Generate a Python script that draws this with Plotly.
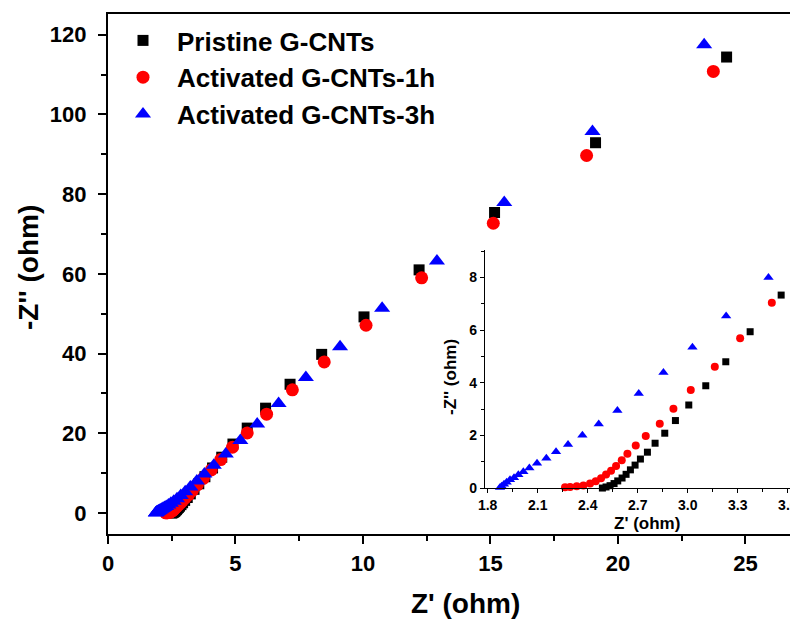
import numpy as np
import plotly.graph_objects as go

# ---------------- data ----------------
pristine_x = [2.488, 2.51, 2.534, 2.558, 2.58, 2.606, 2.63, 2.656, 2.684, 2.716, 2.758, 2.804,
              2.862, 2.926, 3.006, 3.108, 3.228, 3.374, 3.56, 3.80, 4.10, 4.46, 4.90, 5.46,
              6.18, 7.14, 8.38, 10.04, 12.2, 15.16, 19.12, 24.26]
pristine_y = [0.01, 0.05, 0.10, 0.18, 0.28, 0.39, 0.53, 0.70, 0.88, 1.11, 1.37, 1.71,
              2.09, 2.57, 3.16, 3.89, 4.80, 5.94, 7.33, 9.1, 11.3, 14.0, 17.3, 21.3,
              26.3, 32.3, 39.8, 49.2, 61.0, 75.4, 92.9, 114.4]

act1h_x = [2.264, 2.294, 2.334, 2.374, 2.414, 2.448, 2.48, 2.51, 2.54, 2.57, 2.604, 2.638,
           2.688, 2.748, 2.832, 2.914, 3.018, 3.162, 3.314, 3.504, 3.74, 4.05, 4.42, 4.88,
           5.46, 6.22, 7.23, 8.48, 10.12, 12.3, 15.11, 18.77, 23.74]
act1h_y = [0.04, 0.05, 0.08, 0.11, 0.18, 0.27, 0.38, 0.52, 0.67, 0.85, 1.06, 1.31,
           1.62, 1.98, 2.45, 3.02, 3.73, 4.61, 5.69, 7.04, 8.7, 10.8, 13.4, 16.5,
           20.1, 24.8, 30.9, 37.9, 47.1, 59.0, 72.7, 89.7, 110.8]

act3h_x = [1.874, 1.884, 1.898, 1.914, 1.934, 1.958, 1.984, 2.014, 2.05, 2.096, 2.152, 2.21,
           2.282, 2.368, 2.466, 2.578, 2.706, 2.854, 3.028, 3.23, 3.484, 3.78, 4.15, 4.62,
           5.19, 5.85, 6.69, 7.76, 9.10, 10.75, 12.9, 15.54, 19.0, 23.38]
act3h_y = [0.03, 0.08, 0.15, 0.23, 0.32, 0.40, 0.51, 0.63, 0.77, 0.95, 1.14, 1.39,
           1.66, 2.01, 2.44, 2.95, 3.60, 4.39, 5.35, 6.54, 8.00, 9.8, 12.0, 14.8,
           18.2, 22.3, 27.5, 34.0, 41.7, 51.4, 63.2, 77.9, 95.7, 117.5]

series_names = ["Pristine G-CNTs", "Activated G-CNTs-1h", "Activated G-CNTs-3h"]

main_xticks = [0, 5, 10, 15, 20, 25]
main_yticks = [0, 20, 40, 60, 80, 100, 120]
inset_xticks = [1.8, 2.1, 2.4, 2.7, 3.0, 3.3, 3.6]
inset_yticks = [0, 2, 4, 6, 8]

# ---------------- styling ----------------
FONT = "Liberation Sans"
series = [
    (pristine_x, pristine_y, series_names[0], "square", "#000000", 11, 7),
    (act1h_x, act1h_y, series_names[1], "circle", "#ff0000", 13, 8),
    (act3h_x, act3h_y, series_names[2], "triangle-up", "#0000ff", 14, 9),
]

INSET_XMAX = 3.64
INSET_YMAX = 9.0

fig = go.Figure()
for xs, ys, name, sym, col, s_main, s_in in series:
    fig.add_trace(go.Scatter(
        x=xs, y=ys, mode="markers", name=name,
        marker=dict(symbol=sym, color=col, size=s_main, line=dict(width=0)),
        xaxis="x", yaxis="y", cliponaxis=False,
    ))
for xs, ys, name, sym, col, s_main, s_in in series:
    xa = np.array(xs)
    ya = np.array(ys)
    m = (xa <= INSET_XMAX) & (ya <= INSET_YMAX)
    fig.add_trace(go.Scatter(
        x=xa[m], y=ya[m], mode="markers", name=name, showlegend=False,
        marker=dict(symbol=sym, color=col, size=s_in, line=dict(width=0)),
        xaxis="x2", yaxis="y2", cliponaxis=False,
    ))

axis_common = dict(showgrid=False, zeroline=False, showline=True, linecolor="black",
                   ticks="outside", tickcolor="black")

# plot area (page pixels): x 108..798, y 14..534 ; page body has an 8px margin
PL, PT, PW, PH = 108, 14, 690, 520


def px_x(p):
    return (p - PL) / PW


def px_y(p):
    return (PT + PH - p) / PH


fig.update_layout(
    width=790, height=611,
    margin=dict(l=100, r=0, t=6, b=85),
    paper_bgcolor="white", plot_bgcolor="white",
    font=dict(family=FONT, color="black"),
    xaxis=dict(**axis_common, range=[0, 27.06], tickvals=main_xticks, linewidth=2.2,
               ticklen=8, tickwidth=2, mirror=True,
               tickfont=dict(size=22, family=FONT, weight="bold"),
               minor=dict(dtick=2.5, ticklen=5, tickwidth=1.6, ticks="outside", tickcolor="black")),
    yaxis=dict(**axis_common, range=[-5.27, 125.2], tickvals=main_yticks, linewidth=2.2,
               ticklen=8, tickwidth=2, ticklabelstandoff=7,
               tickfont=dict(size=22, family=FONT, weight="bold"),
               minor=dict(dtick=10, ticklen=5, tickwidth=1.6, ticks="outside", tickcolor="black")),
    xaxis2=dict(**axis_common, domain=[px_x(485), 1.0], anchor="y2", range=[1.784, 3.661],
                tickvals=inset_xticks, tickformat=".1f", linewidth=1.3, ticklen=4, tickwidth=1.2,
                tickfont=dict(size=14, family=FONT, weight="bold"),
                minor=dict(dtick=0.15, tick0=1.8, ticklen=2.5, tickwidth=1, ticks="outside", tickcolor="black")),
    yaxis2=dict(**axis_common, domain=[px_y(488.3), px_y(250)], anchor="x2", range=[0, 9.04],
                tickvals=inset_yticks, linewidth=1.3, ticklen=4, tickwidth=1.2,
                tickfont=dict(size=14, family=FONT, weight="bold"),
                minor=dict(dtick=1, ticklen=2.5, tickwidth=1, ticks="outside", tickcolor="black")),
    legend=dict(x=px_x(109), y=px_y(17), xanchor="left", yanchor="top", bgcolor="rgba(0,0,0,0)",
                borderwidth=0, itemwidth=58,
                font=dict(size=26, family=FONT, weight="bold")),
    annotations=[
        dict(text="Z' (ohm)", xref="paper", yref="paper", x=px_x(465), y=px_y(603),
             showarrow=False, xanchor="center", yanchor="middle",
             font=dict(size=28, family=FONT, weight="bold")),
        dict(text="-Z'' (ohm)", xref="paper", yref="paper", x=px_x(28), y=px_y(268),
             showarrow=False, xanchor="center", yanchor="middle", textangle=-90,
             font=dict(size=28, family=FONT, weight="bold")),
        dict(text="Z' (ohm)", xref="paper", yref="paper", x=px_x(647), y=px_y(523),
             showarrow=False, xanchor="center", yanchor="middle",
             font=dict(size=17, family=FONT, weight="bold")),
        dict(text="-Z'' (ohm)", xref="paper", yref="paper", x=px_x(450), y=px_y(377),
             showarrow=False, xanchor="center", yanchor="middle", textangle=-90,
             font=dict(size=17, family=FONT, weight="bold")),
    ],
)

fig.write_html("out.html")
